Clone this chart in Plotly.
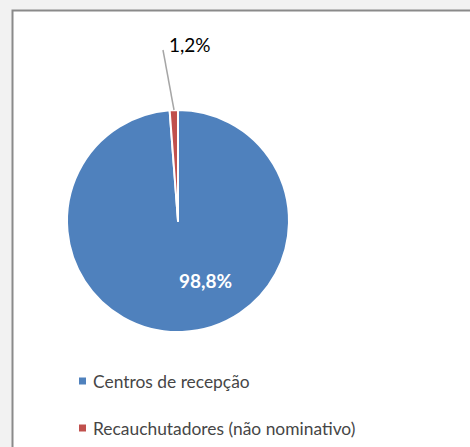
import plotly.graph_objects as go

categories = ["Centros de recepção", "Recauchutadores (não nominativo)"]
values = [98.8, 1.2]
colors = ["#4F81BD", "#C0504D"]
label_text = ["98,8%", "1,2%"]

W, H = 470, 447
def px(x):
    return x / W
def py(y):
    return 1 - y / H

FONT = "Lato"

fig = go.Figure()
cx, cy, r = 178, 221, 111
fig.add_trace(go.Pie(
    labels=categories, values=values, sort=False, direction="clockwise", rotation=0,
    marker=dict(colors=colors, line=dict(color="white", width=2)),
    textinfo="none", hoverinfo="label+percent", showlegend=False,
    domain=dict(x=[px(cx - r), px(cx + r)], y=[py(cy + r), py(cy - r)]),
))

shapes = [
    dict(type="rect", xref="paper", yref="paper", x0=px(12.5), x1=1.05, y0=-0.05, y1=py(10.5),
         line=dict(color="#8a8a8a", width=2), fillcolor="white", layer="below"),
    dict(type="line", xref="paper", yref="paper", x0=px(174), y0=py(110), x1=px(163), y1=py(50),
         line=dict(color="#a6a6a6", width=1.5)),
]
annotations = [
    dict(x=px(205.5), y=py(280), xref="paper", yref="paper", text="<b>" + label_text[0] + "</b>",
         showarrow=False, font=dict(family=FONT, size=19, color="white"), xanchor="center", yanchor="middle"),
    dict(x=px(167), y=py(44), xref="paper", yref="paper", text=label_text[1],
         showarrow=False, font=dict(family=FONT, size=19, color="#000000"), xanchor="left", yanchor="middle"),
]
legend_y = [381, 428]
for i, name in enumerate(categories):
    yy = legend_y[i]
    shapes.append(dict(type="rect", xref="paper", yref="paper", x0=px(79), x1=px(86), y0=py(yy + 3.5), y1=py(yy - 3.5),
                       line=dict(width=0), fillcolor=colors[i]))
    annotations.append(dict(x=px(91), y=py(yy), xref="paper", yref="paper", text=name, showarrow=False,
                            font=dict(family=FONT, size=17.4, color="#464646"), xanchor="left", yanchor="middle"))

fig.update_layout(
    width=W, height=H, margin=dict(l=0, r=0, t=0, b=0),
    paper_bgcolor="#f2f2f2", plot_bgcolor="#f2f2f2",
    shapes=shapes, annotations=annotations, showlegend=False,
)
fig.write_html("out.html", config={"displayModeBar": False},
               post_script="document.body.style.margin='0';document.body.style.background='#f2f2f2';document.body.style.overflow='hidden';")
